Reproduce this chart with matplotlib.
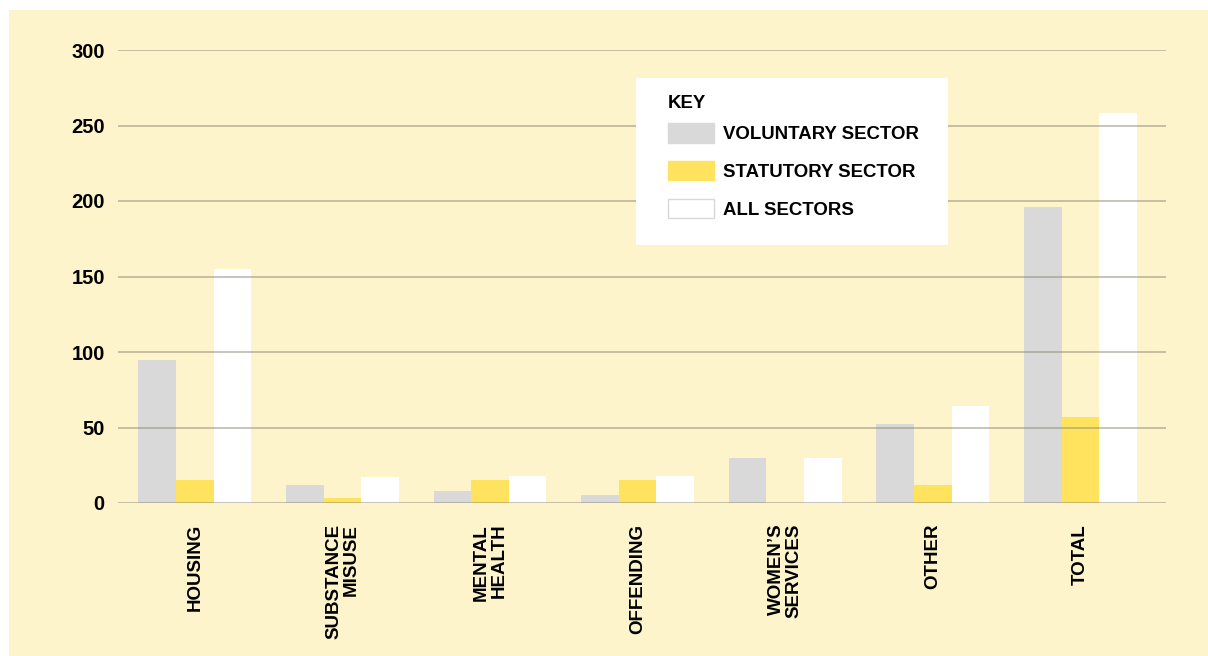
import numpy as np
import matplotlib
matplotlib.use("Agg")
import matplotlib.pyplot as plt
from matplotlib.patches import Rectangle, Patch

categories = ["HOUSING", "SUBSTANCE\nMISUSE", "MENTAL\nHEALTH", "OFFENDING",
              "WOMEN\u2019S\nSERVICES", "OTHER", "TOTAL"]
voluntary = [95, 12, 8, 5, 30, 52, 196]
statutory = [15, 3, 15, 15, 0, 12, 57]
all_sectors = [155, 17, 18, 18, 30, 64, 258]
yticks = [0, 50, 100, 150, 200, 250, 300]

plt.rcParams['font.family'] = ['Liberation Sans', 'DejaVu Sans']
plt.rcParams['font.weight'] = 'bold'

W, H = 1208, 656
bg = "#FDF4CB"
grey = "#D9D9D9"
yellow = "#FFE35E"


def fx(px):
    return px / W


def fy(py):
    return 1 - py / H


fig = plt.figure(figsize=(W / 100, H / 100), dpi=100)
fig.patch.set_facecolor("white")
fig.patches.append(Rectangle((fx(9), 0), 1, fy(10), transform=fig.transFigure,
                             facecolor=bg, edgecolor="none", zorder=-10))

ax = fig.add_axes([fx(118), fy(503), fx(1166 - 118), (503 - 50) / H])
ax.set_facecolor("none")

x = np.arange(len(categories))
w = 0.255
ax.bar(x - w, voluntary, w, color=grey, label="VOLUNTARY SECTOR", zorder=2)
ax.bar(x, statutory, w, color=yellow, label="STATUTORY SECTOR", zorder=2)
ax.bar(x + w, all_sectors, w, color="white", label="ALL SECTORS", zorder=2)

ax.set_xlim(-0.52, 6.58)
ax.set_ylim(0, 300)
ax.set_yticks(yticks)
ax.yaxis.grid(True, color="#8a8470", alpha=0.6, linewidth=1.1, zorder=3)
ax.set_axisbelow(False)
for s in ax.spines.values():
    s.set_visible(False)
ax.tick_params(axis="both", length=0)
ax.tick_params(axis="y", pad=9.5, labelsize=14.5)

ax.set_xticks(x)
ax.set_xticklabels(categories, rotation=90, fontsize=13.5, va="top", ha="center",
                   multialignment="right", linespacing=1.05)
ax.tick_params(axis="x", pad=15)

# legend box: white panel, KEY heading, then the entries
panel = Rectangle((fx(636), fy(245)), fx(948 - 636), (245 - 78) / H,
                  transform=fig.transFigure, facecolor="white",
                  edgecolor="none", zorder=4, clip_on=False)
ax.add_artist(panel)
ax.text(fx(668), fy(104), "KEY", transform=fig.transFigure, fontsize=13.4,
        fontweight="bold", ha="left", va="center", zorder=6)
handles = [Patch(facecolor=grey, edgecolor=grey),
           Patch(facecolor=yellow, edgecolor=yellow),
           Patch(facecolor="white", edgecolor="#d8d8d8")]
leg = ax.legend(handles, ["VOLUNTARY SECTOR", "STATUTORY SECTOR", "ALL SECTORS"],
                loc="upper left", bbox_to_anchor=(fx(668), fy(123)),
                bbox_transform=fig.transFigure, frameon=False,
                fontsize=13.4, handlelength=2.47, handleheight=1.25,
                labelspacing=0.95, borderpad=0, handletextpad=0.48, borderaxespad=0)
leg.set_zorder(5)

fig.savefig("out.png", dpi=100, facecolor=fig.get_facecolor())
